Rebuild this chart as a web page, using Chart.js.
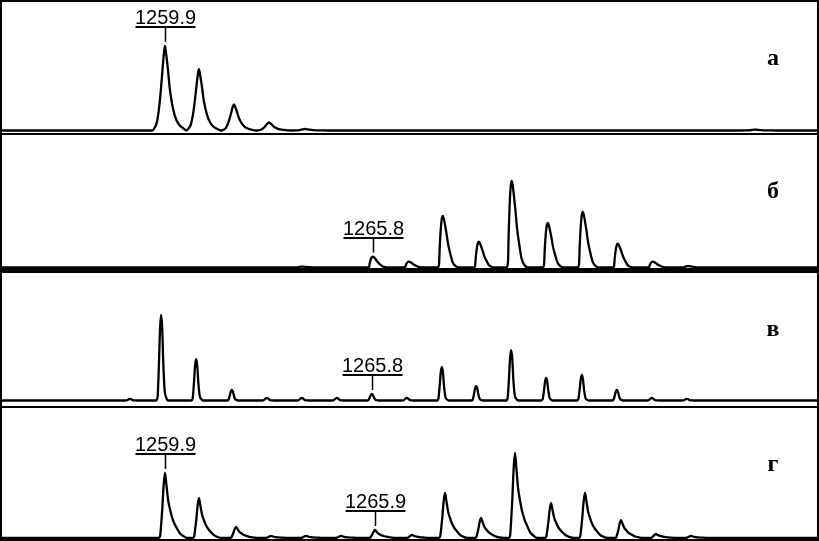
<!DOCTYPE html>
<html>
<head>
<meta charset="utf-8">
<script src="https://cdn.jsdelivr.net/npm/chart.js@4.4.1/dist/chart.umd.min.js"></script>
<style>
  html, body { margin: 0; padding: 0; background: #fff; }
  #wrap { position: relative; width: 819px; height: 541px; overflow: hidden; }
  #wrap canvas { position: absolute; left: 0; }
  .sep { position: absolute; left: 0; width: 819px; background: #000; }
  #frame { position: absolute; left: 0; top: 0; width: 819px; height: 541px; box-sizing: border-box; border: 2px solid #000; }
</style>
</head>
<body>
<div id="wrap">
  <canvas id="pA" width="819" height="131" style="top:2px"></canvas>
  <div class="sep" style="top:133px;height:2px"></div>
  <canvas id="pB" width="819" height="133" style="top:135px"></canvas>
  <div class="sep" style="top:268px;height:5px"></div>
  <canvas id="pV" width="819" height="133" style="top:273px"></canvas>
  <div class="sep" style="top:406px;height:2px"></div>
  <canvas id="pG" width="819" height="131" style="top:408px"></canvas>
  <div id="frame"></div>
</div>
<script>
// m/z range shown on every panel
const mzMin = 1255.186;
const mzMax = 1278.586;

// peak lists (m/z, relative intensity %)
const mzA = [1259.9, 1260.87, 1261.87, 1262.87, 1263.9, 1276.76];
const intA = [100, 72.6, 31, 9.5, 1.8, 1];

const mzB = [1263.81, 1265.84, 1266.87, 1267.84, 1268.87, 1269.81, 1270.84, 1271.84, 1272.84, 1273.84, 1274.84];
const intB = [1.1, 12.6, 6.9, 59.8, 29.9, 100, 51.7, 64.4, 27.6, 6.9, 1.7];

const mzV = [1258.9, 1259.79, 1260.79, 1261.81, 1262.81, 1263.81, 1264.81, 1265.81, 1266.81,
             1267.81, 1268.79, 1269.79, 1270.79, 1271.81, 1272.81, 1273.81, 1274.81];
const intV = [1.8, 100, 48.5, 12.3, 2.9, 2.9, 2.9, 7.6, 2.9, 39.2, 17, 59, 26.3, 29.8, 12.3, 2.9, 1.8];

const mzG = [1259.9, 1260.87, 1261.93, 1262.93, 1263.93, 1264.93, 1265.9, 1266.96,
             1267.9, 1268.93, 1269.9, 1270.93, 1271.9, 1272.93, 1273.93, 1274.93];
const intG = [76.5, 47, 13, 2.4, 2.4, 2.4, 9.4, 3.5, 53, 23.5, 100, 41, 53, 21, 4.7, 2.4];

// peak annotations
const tagTextA = ['1259.9'];
const tagMzA = [1259.9];
const tagTextB = ['1265.8'];
const tagMzB = [1265.84];
const tagTextV = ['1265.8'];
const tagMzV = [1265.81];
const tagTextG = ['1259.9', '1265.9'];
const tagMzG = [1259.9, 1265.9];

const panelLetters = ['а', 'б', 'в', 'г'];

// peak profiles (offset in m/z, fraction of apex) - line shape only
const shapeA = [[-0.36,0],[-0.3,0.03],[-0.23,0.1],[-0.16,0.3],[-0.11,0.52],[-0.065,0.75],[-0.03,0.92],[0,1],
                [0.035,0.9],[0.085,0.72],[0.13,0.52],[0.18,0.37],[0.24,0.24],[0.32,0.13],[0.41,0.065],[0.51,0.03],[0.62,0]];
const shapeB = [[-0.15,0],[-0.11,0.06],[-0.09,0.4],[-0.06,0.75],[-0.03,0.95],[0,1],[0.04,0.9],[0.1,0.67],
                [0.15,0.45],[0.2,0.3],[0.28,0.1],[0.38,0.02],[0.45,0]];
const shapeV = [[-0.14,0],[-0.1,0.05],[-0.065,0.4],[-0.03,0.85],[0,1],[0.03,0.85],[0.065,0.4],[0.1,0.12],[0.14,0.04],[0.2,0]];
const shapeG = [[-0.18,0],[-0.14,0.03],[-0.11,0.2],[-0.077,0.45],[-0.04,0.8],[0,1],[0.04,0.82],[0.09,0.58],
                [0.14,0.45],[0.2,0.32],[0.27,0.22],[0.34,0.15],[0.43,0.07],[0.52,0.03],[0.64,0]];

function buildTrace(mz, inten, shape) {
    const pts = [{ x: mzMin, y: 0 }];
    mz.forEach((m, i) => {
        shape.forEach(s => pts.push({ x: m + s[0], y: inten[i] * s[1] }));
    });
    pts.push({ x: mzMax, y: 0 });
    return pts;
}

// draws the tag lines/labels and the panel letter
const tagPlugin = {
    id: 'tags',
    afterDatasetsDraw(chart, args, opts) {
        const ctx = chart.ctx;
        const xs = chart.scales.x, ys = chart.scales.y;
        ctx.save();
        ctx.strokeStyle = '#000';
        ctx.fillStyle = '#000';
        opts.texts.forEach((t, i) => {
            const m = opts.mz[i];
            // height of the tagged peak from the peak list
            let k = 0;
            opts.peakMz.forEach((p, j) => { if (Math.abs(p - m) < Math.abs(opts.peakMz[k] - m)) k = j; });
            const px = Math.round(xs.getPixelForValue(m)) + 0.5;
            const top = ys.getPixelForValue(opts.peakInt[k]) - 4;
            const lineY = Math.round(top - 15);
            ctx.lineWidth = 1.5;
            ctx.beginPath();
            ctx.moveTo(px, top);
            ctx.lineTo(px, lineY);
            ctx.stroke();
            ctx.lineWidth = 2;
            ctx.beginPath();
            ctx.moveTo(px - 30, lineY);
            ctx.lineTo(px + 30, lineY);
            ctx.stroke();
            ctx.font = '20px "Liberation Sans", Arial, sans-serif';
            ctx.textAlign = 'center';
            ctx.textBaseline = 'alphabetic';
            ctx.fillText(t, px, lineY - 3);
        });
        ctx.font = 'bold 24px "Liberation Serif", "Times New Roman", serif';
        ctx.textAlign = 'center';
        ctx.textBaseline = 'alphabetic';
        ctx.fillText(opts.letter, 773, 63);
        ctx.restore();
    }
};

function makePanel(id, mz, inten, shape, yMin, yMax, texts, tagMz, letter) {
    return new Chart(document.getElementById(id), {
        type: 'line',
        data: {
            datasets: [{
                data: buildTrace(mz, inten, shape),
                borderColor: '#000',
                borderWidth: 2.3,
                pointRadius: 0,
                fill: false,
                cubicInterpolationMode: 'monotone'
            }]
        },
        options: {
            responsive: false,
            animation: false,
            layout: { padding: 0 },
            scales: {
                x: { type: 'linear', min: mzMin, max: mzMax, display: false },
                y: { min: yMin, max: yMax, display: false }
            },
            plugins: {
                legend: { display: false },
                tooltip: { enabled: false },
                tags: { texts: texts, mz: tagMz, peakMz: mz, peakInt: inten, letter: letter }
            }
        },
        plugins: [tagPlugin]
    });
}

makePanel('pA', mzA, intA, shapeA, -2.96, 152.1, tagTextA, tagMzA, panelLetters[0]);
makePanel('pB', mzB, intB, shapeB, -0.58, 153.2, tagTextB, tagMzB, panelLetters[1]);
makePanel('pV', mzV, intV, shapeV, -6.43, 149.1, tagTextV, tagMzV, panelLetters[2]);
makePanel('pG', mzG, intG, shapeG, -1.18, 152.9, tagTextG, tagMzG, panelLetters[3]);
</script>
</body>
</html>
